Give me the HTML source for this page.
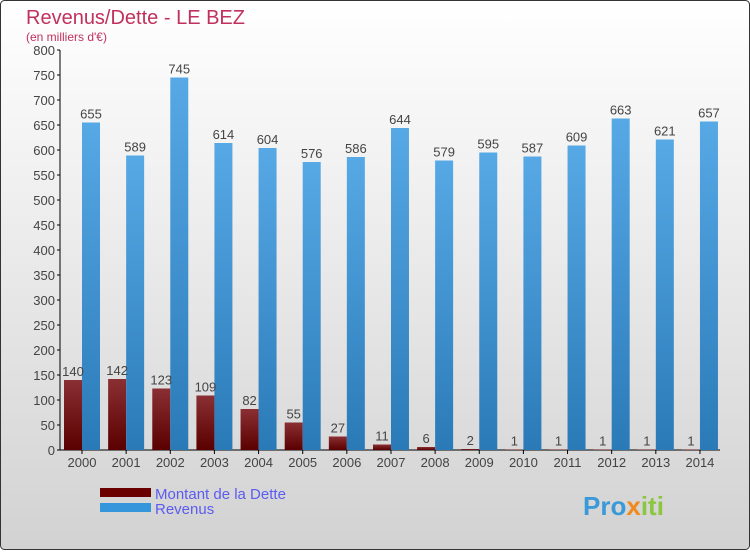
<!DOCTYPE html>
<html><head><meta charset="utf-8"><style>
body{margin:0}
svg text{font-family:"Liberation Sans",sans-serif}
</style></head><body>
<svg id="c" width="750" height="550" xmlns="http://www.w3.org/2000/svg">
<defs>
<linearGradient id="bg" x1="0" y1="0" x2="0" y2="1"><stop offset="0" stop-color="#ffffff"/><stop offset="1" stop-color="#d2d2d2"/></linearGradient>
<linearGradient id="gd" x1="0" y1="0" x2="0" y2="1"><stop offset="0" stop-color="#8a2f33"/><stop offset="1" stop-color="#5a0000"/></linearGradient>
<linearGradient id="gr" x1="0" y1="0" x2="0" y2="1"><stop offset="0" stop-color="#57a9e6"/><stop offset="1" stop-color="#2a7ab8"/></linearGradient>
</defs>
<rect x="0.5" y="0.5" width="749" height="549" rx="4" fill="url(#bg)" stroke="#333"/>
<text x="26" y="24" font-size="20" fill="#c0315e">Revenus/Dette - LE BEZ</text>
<text x="26" y="41" font-size="12" fill="#c0315e">(en milliers d'€)</text>
<g id="plot"></g>
<rect x="100" y="488" width="51" height="9" fill="#6a0000"/>
<rect x="100" y="503" width="51" height="9" fill="#3596dc"/>
<text x="155" y="499" font-size="15" fill="#5b5bf0">Montant de la Dette</text>
<text x="155" y="514" font-size="15" fill="#5b5bf0">Revenus</text>
<text x="583" y="515" font-size="26" font-weight="bold" fill="#3a9ad9">Pro<tspan fill="#f08a1c">x</tspan><tspan fill="#8cc63f">iti</tspan></text>
</svg>
<script>
const years=["2000","2001","2002","2003","2004","2005","2006","2007","2008","2009","2010","2011","2012","2013","2014"];
const dette=[140,142,123,109,82,55,27,11,6,2,1,1,1,1,1];
const revenus=[655,589,745,614,604,576,586,644,579,595,587,609,663,621,657];
const yTicks=[0,50,100,150,200,250,300,350,400,450,500,550,600,650,700,750,800];
const NS="http://www.w3.org/2000/svg";
const g=document.getElementById('plot');
const y=v=>450-v*0.5;
const x=i=>82+i*44.14;
function mk(t,a,txt){const e=document.createElementNS(NS,t);for(const k in a)e.setAttribute(k,a[k]);if(txt!==undefined)e.textContent=txt;g.appendChild(e);return e;}
let ax=mk('line',{x1:60,y1:50,x2:60,y2:450,stroke:'#000'});


let bx=mk('line',{x1:60,y1:450,x2:720,y2:450,stroke:'#000'});


yTicks.forEach(v=>{
 let t=mk('line',{x1:57,y1:y(v),x2:60,y2:y(v),stroke:'#000'});
 
 
 let l=mk('text',{x:55,y:y(v)+5,'font-size':13,fill:'#444','text-anchor':'end'},v);
 
 
});
years.forEach((yr,i)=>{
 const cx=x(i);
 let t=mk('line',{x1:cx,y1:450,x2:cx,y2:454,stroke:'#000'});
 
 
 let l=mk('text',{x:cx,y:467,'font-size':13,fill:'#444','text-anchor':'middle'},yr);
 
 
 let b=mk('rect',{x:cx-18,y:y(dette[i]),width:18,height:450-y(dette[i]),fill:'url(#gd)'});
 
 
 let r=mk('rect',{x:cx,y:y(revenus[i]),width:18,height:450-y(revenus[i]),fill:'url(#gr)'});
 
 
 let dl=mk('text',{x:cx-9,y:y(dette[i])-4,'font-size':13,fill:'#444','text-anchor':'middle'},dette[i]);
 
 
 let rl=mk('text',{x:cx+9,y:y(revenus[i])-4,'font-size':13,fill:'#444','text-anchor':'middle'},revenus[i]);
 
 
});
</script>
</body></html>
